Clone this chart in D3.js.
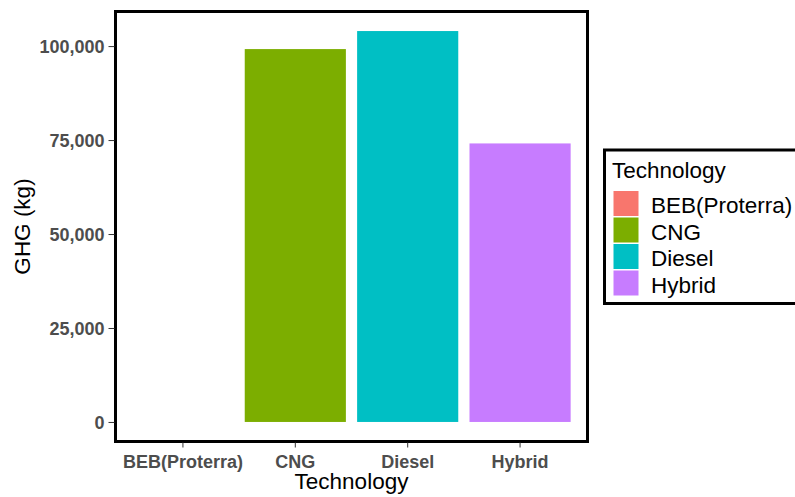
<!DOCTYPE html>
<html><head><meta charset="utf-8">
<script src="https://cdn.jsdelivr.net/npm/d3@7"></script>
<style>body{margin:0;background:#fff;}svg{display:block;font-family:"Liberation Sans",Arial,sans-serif;}</style>
</head><body>
<svg id="c" width="795" height="497"></svg>
<script>
const categories = ["BEB(Proterra)", "CNG", "Diesel", "Hybrid"];
const values = [0, 99200, 104000, 74100];
const colors = ["#F8766D", "#7CAE00", "#00BFC4", "#C77CFF"];
const yTicks = [0, 25000, 50000, 75000, 100000];
const xTitle = "Technology", yTitle = "GHG (kg)", legendTitle = "Technology";

const svg = d3.select("#c");
const L = 115.5, R = 587.5, T = 11.5, B = 441.5;
const step = (R - L) / (categories.length + 0.2);
const x = d3.scaleBand().domain(categories).range([L + 0.6*step - step/2, R - 0.6*step + step/2]).paddingInner(0.1).paddingOuter(0.05);
const maxV = d3.max(values);
const y = d3.scaleLinear().domain([-0.05*maxV, 1.05*maxV]).range([B, T]);

svg.append("g").selectAll("rect").data(categories).join("rect")
  .attr("x", d => x(d)).attr("width", x.bandwidth())
  .attr("y", (d,i) => y(Math.max(values[i],0))).attr("height", (d,i) => Math.abs(y(0) - y(values[i])))
  .attr("fill", (d,i) => colors[i]);

svg.append("rect").attr("x", L).attr("y", T).attr("width", R-L).attr("height", B-T)
  .attr("fill","none").attr("stroke","#000").attr("stroke-width",3);

const fmt = d3.format(",");
const yAxis = svg.append("g").attr("transform", `translate(${L-1},0)`)
  .call(d3.axisLeft(y).tickValues(yTicks).tickFormat(fmt).tickSize(6).tickPadding(4));
yAxis.select(".domain").remove();
yAxis.selectAll("line").attr("stroke","#333").attr("stroke-width",1);
yAxis.selectAll("text").attr("fill","#4D4D4D").attr("dy","0.36em").style("font-size","18px").style("font-weight","bold")
  .style("font-family","'Liberation Sans',Arial,sans-serif");

const xAxis = svg.append("g").attr("transform", `translate(0,${B+1})`)
  .call(d3.axisBottom(x).tickSize(5).tickPadding(8));
xAxis.select(".domain").remove();
xAxis.selectAll("line").attr("stroke","#333").attr("stroke-width",1);
xAxis.selectAll("text").attr("fill","#4D4D4D").style("font-size","18px").style("font-weight","bold")
  .style("font-family","'Liberation Sans',Arial,sans-serif");

svg.append("text").attr("x", (L+R)/2).attr("y", 488.5).attr("text-anchor","middle")
  .style("font-size","22.5px").attr("fill","#000").text(xTitle);
svg.append("text").attr("transform", `translate(30,${(T+B)/2}) rotate(-90)`).attr("text-anchor","middle")
  .style("font-size","22.5px").attr("fill","#000").text(yTitle);

const lg = svg.append("g");
lg.append("rect").attr("x",604.5).attr("y",150).attr("width",200).attr("height",153.5)
  .attr("fill","#fff").attr("stroke","#000").attr("stroke-width",3);
lg.append("text").attr("x",612).attr("y",177.5).style("font-size","22.5px").text(legendTitle);
categories.forEach((c,i) => {
  const yy = 191 + i*26.5;
  lg.append("rect").attr("x",613.5).attr("y",yy).attr("width",25).attr("height",25).attr("fill",colors[i]);
  lg.append("text").attr("x",651).attr("y",yy+22).style("font-size","22.5px").text(c);
});
</script>
</body></html>
